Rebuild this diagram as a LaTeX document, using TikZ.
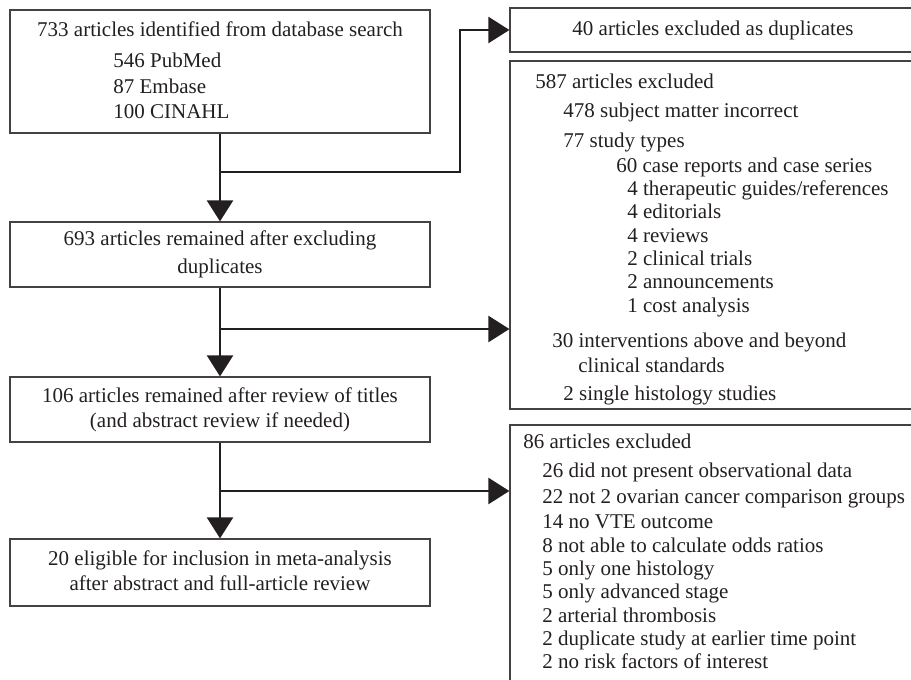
\documentclass[tikz,border=0pt]{standalone}
\usepackage{fontspec}
\setmainfont{Liberation Serif}
\usetikzlibrary{arrows.meta}
\definecolor{ink}{HTML}{231F20}
\tikzset{
  box/.style={draw=ink!85, line width=0.6pt, rectangle, inner sep=0pt},
  txt/.style={inner sep=0pt, text=ink},
  arr/.style={draw=ink, line width=1.2pt, -{Triangle[length=10.5pt,width=13pt]}},
}
\begin{document}
\begin{tikzpicture}[x=0.5pt,y=-0.5pt,font=\fontsize{10.5pt}{12pt}\selectfont]
    \useasboundingbox (0,0) rectangle (911,680);
    % left column
    \node[box,minimum width=210pt,minimum height=61.5pt] (src) at (220,71.5) {};
    \node[box,minimum width=210pt,minimum height=32.5pt] (rem) at (220,254.5) {};
    \node[box,minimum width=210pt,minimum height=32.5pt] (tit) at (220,409.5) {};
    \node[box,minimum width=210pt,minimum height=33.5pt] (fin) at (220,572.5) {};

    % right column, cut off at the edge
    \node[box,minimum width=205pt,minimum height=22pt] (dup) at (715,30) {};
    \node[box,minimum width=205pt,minimum height=174pt] (exa) at (715,235) {};
    \node[box,minimum width=205pt,minimum height=137.5pt] (exb) at (715,562.5) {};

    \node[txt,anchor=base] (s0) at (220,36) {733 articles identified from database search};
    \node[txt,anchor=base west] (s1) at (113,67) {546 PubMed};
    \node[txt,anchor=base west] (s2) at (113,93) {87 Embase};
    \node[txt,anchor=base west] (s3) at (113,118) {100 CINAHL};
    \node[txt,anchor=base] (r0) at (220,245) {693 articles remained after excluding};
    \node[txt,anchor=base] (r1) at (220,273) {duplicates};
    \node[txt,anchor=base] (t0) at (220,402) {106 articles remained after review of titles};
    \node[txt,anchor=base] (t1) at (220,427) {(and abstract review if needed)};
    \node[txt,anchor=base] (f0) at (220,565) {20 eligible for inclusion in meta-analysis};
    \node[txt,anchor=base] (f1) at (220,590) {after abstract and full-article review};

    \node[txt,anchor=base] (d0) at (713,35) {40 articles excluded as duplicates};

    \node[txt,anchor=base west] (a0) at (535,88) {587 articles excluded};
    \node[txt,anchor=base west] (a1) at (563,117) {478 subject matter incorrect};
    \node[txt,anchor=base west] (a2) at (563,147) {77 study types};
    \node[txt,anchor=base west] (a3) at (616,172) {60 case reports and case series};
    \node[txt,anchor=base west] (a4) at (627,195) {4 therapeutic guides/references};
    \node[txt,anchor=base west] (a5) at (627,218) {4 editorials};
    \node[txt,anchor=base west] (a6) at (627,242) {4 reviews};
    \node[txt,anchor=base west] (a7) at (627,265) {2 clinical trials};
    \node[txt,anchor=base west] (a8) at (627,288) {2 announcements};
    \node[txt,anchor=base west] (a9) at (627,312) {1 cost analysis};
    \node[txt,anchor=base west] (a10) at (552,347) {30 interventions above and beyond};
    \node[txt,anchor=base west] (a11) at (578,372) {clinical standards};
    \node[txt,anchor=base west] (a12) at (563,400) {2 single histology studies};

    \node[txt,anchor=base west] (b0) at (523,448) {86 articles excluded};
    \node[txt,anchor=base west] (b1) at (542,477) {26 did not present observational data};
    \node[txt,anchor=base west] (b2) at (542,503) {22 not 2 ovarian cancer comparison groups};
    \node[txt,anchor=base west] (b3) at (542,528) {14 no VTE outcome};
    \node[txt,anchor=base west] (b4) at (542,552) {8 not able to calculate odds ratios};
    \node[txt,anchor=base west] (b5) at (542,575) {5 only one histology};
    \node[txt,anchor=base west] (b6) at (542,598) {5 only advanced stage};
    \node[txt,anchor=base west] (b7) at (542,622) {2 arterial thrombosis};
    \node[txt,anchor=base west] (b8) at (542,645) {2 duplicate study at earlier time point};
    \node[txt,anchor=base west] (b9) at (542,668) {2 no risk factors of interest};

    % arrows
    \draw[arr] (src) -- (rem);
    \draw[arr] (rem) -- (tit);
    \draw[arr] (tit) -- (fin);
    \coordinate (j1) at (220,172);
    \coordinate (k1) at (460,30);
    \coordinate (j2) at (220,329);
    \coordinate (j3) at (220,491);
    \draw[arr] (j1) -| (k1) -- (dup.west);
    \draw[arr] (j2) -- (j2 -| exa.west);
    \draw[arr] (j3) -- (j3 -| exb.west);
\end{tikzpicture}
\end{document}
